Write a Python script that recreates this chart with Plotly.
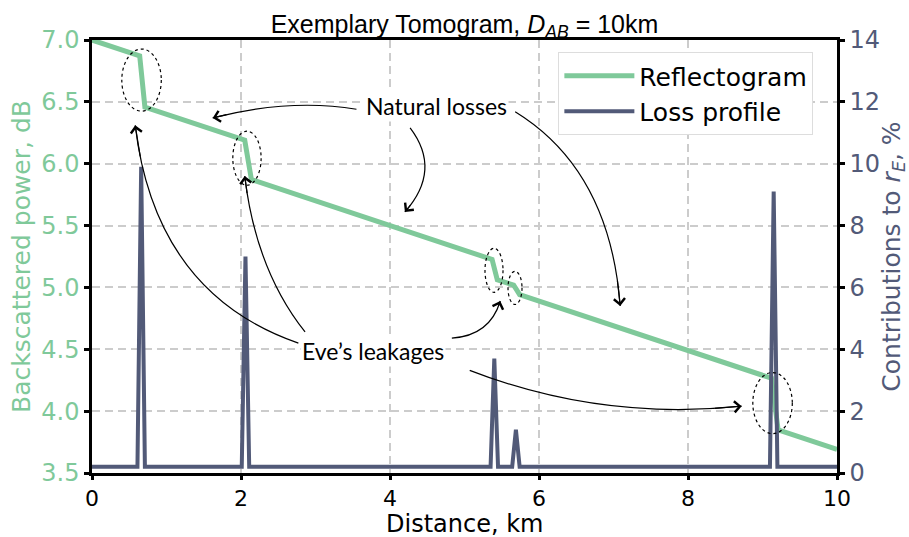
import plotly.graph_objects as go

# Reflectogram vertices (distance in km, backscattered power in dB)
refl_km = [0.0, 0.64, 0.71, 2.05, 2.14, 5.37, 5.44, 5.66, 5.74, 9.12, 9.21, 10.0]
refl_db = [7.0, 6.872, 6.458, 6.19, 5.872, 5.226, 5.062, 5.018, 4.942, 4.266, 3.848, 3.69]

# Loss profile: event positions (km) and their contributions to r_E (%)
event_km = [0.66, 2.06, 5.40, 5.69, 9.15]
event_pct = [9.9, 7.0, 3.7, 1.4, 9.1]
loss_floor = 0.2
spike_halfwidth = 0.05

loss_x = [0.0]
loss_y = [loss_floor]
for xk, pk in zip(event_km, event_pct):
    loss_x += [xk - spike_halfwidth, xk, xk + spike_halfwidth]
    loss_y += [loss_floor, pk, loss_floor]
loss_x.append(10.0)
loss_y.append(loss_floor)

GREEN = "#7fc99a"
NAVY = "#525a78"
TICK_FONT = "DejaVu Sans"

fig = go.Figure()
fig.add_trace(go.Scatter(x=refl_km, y=refl_db, mode="lines", name="Reflectogram",
                         line=dict(color=GREEN, width=5), yaxis="y"))
fig.add_trace(go.Scatter(x=loss_x, y=loss_y, mode="lines", name="Loss profile",
                         line=dict(color=NAVY, width=4), yaxis="y2"))

# Dotted ellipses around loss events (x0, x1, y0, y1 in km / dB)
ellipses = [
    (0.40, 0.93, 6.425, 6.927),
    (1.89, 2.27, 5.826, 6.263),
    (5.275, 5.517, 4.960, 5.316),
    (5.584, 5.772, 4.862, 5.130),
    (8.87, 9.40, 3.818, 4.312),
]
shapes = []
for x0, x1, y0, y1 in ellipses:
    shapes.append(dict(type="circle", xref="x", yref="y", x0=x0, x1=x1, y0=y0, y1=y1,
                       line=dict(color="black", width=1.2, dash="dot")))

# Curved pointer arrows: start, control, end (km, dB)
curves = [
    ((3.55, 6.44), (2.66, 6.53), (1.62, 6.37)),
    ((4.27, 6.29), (4.70, 5.95), (4.20, 5.61)),
    ((5.68, 6.42), (6.95, 5.95), (7.09, 4.85)),
    ((2.77, 4.55), (0.85, 4.95), (0.58, 6.31)),
    ((2.86, 4.64), (2.20, 5.14), (2.05, 5.90)),
    ((4.83, 4.59), (5.34, 4.61), (5.48, 4.89)),
    ((5.07, 4.33), (6.82, 3.92), (8.72, 4.04)),
]
annotations = []
for (sx, sy), (cx, cy), (ex, ey) in curves:
    shapes.append(dict(type="path", xref="x", yref="y",
                       path=f"M {sx},{sy} Q {cx},{cy} {ex},{ey}",
                       line=dict(color="black", width=1.2)))
    t = 0.9
    tx = (1 - t) ** 2 * sx + 2 * (1 - t) * t * cx + t ** 2 * ex
    ty = (1 - t) ** 2 * sy + 2 * (1 - t) * t * cy + t ** 2 * ey
    annotations.append(dict(x=ex, y=ey, ax=tx, ay=ty, xref="x", yref="y",
                            axref="x", ayref="y", text="", showarrow=True,
                            arrowhead=4, arrowsize=1.8, arrowwidth=1.2,
                            arrowcolor="black", standoff=0))

annotations.append(dict(x=4.63, y=6.47, xref="x", yref="y", text="Natural losses",
                        showarrow=False, bgcolor="white",
                        font=dict(family="Lato", size=23, color="black")))
annotations.append(dict(x=3.77, y=4.49, xref="x", yref="y", text="Eve\u2019s leakages",
                        showarrow=False, bgcolor="white",
                        font=dict(family="Lato", size=23, color="black")))

# x-axis title placed beneath the tick labels
annotations.append(dict(x=0.5, y=-0.153, xref="paper", yref="paper", text="Distance, km",
                        showarrow=False, xanchor="center", yanchor="bottom", borderpad=0,
                        font=dict(family=TICK_FONT, size=24, color="black")))

grid = dict(showgrid=True, gridcolor="#cccccc", gridwidth=2, griddash="8px,5px")
axis_line = dict(showline=True, linecolor="black", linewidth=2.5, ticks="outside",
                 ticklen=5, tickwidth=2.5, tickcolor="black", zeroline=False,
                 automargin=False)

fig.update_layout(
    width=909, height=537,
    margin=dict(l=92, r=72, t=40, b=64),
    plot_bgcolor="white", paper_bgcolor="white",
    title=dict(text="Exemplary Tomogram, <i>D</i><sub><i>AB</i></sub> = 10km",
               x=0.5, xref="paper", y=0.955, yref="container", yanchor="middle",
               automargin=False,
               font=dict(family="Liberation Sans", size=25, color="black")),
    xaxis=dict(range=[0, 10], dtick=2, tickfont=dict(family=TICK_FONT, size=22, color="black"),
               mirror=True, **{**axis_line, "ticklen": 4}, **grid),
    yaxis=dict(range=[3.5, 7.0], dtick=0.5, tickformat=".1f",
               tickfont=dict(family=TICK_FONT, size=24, color=GREEN),
               title=dict(text="Backscattered power, dB",
                          font=dict(family=TICK_FONT, size=25, color=GREEN), standoff=4),
               **grid, **axis_line),
    yaxis2=dict(range=[0, 14], dtick=2, overlaying="y", side="right",
                tickfont=dict(family=TICK_FONT, size=24, color=NAVY),
                title=dict(text="Contributions to <i>r</i><sub><i>E</i></sub>, %",
                           font=dict(family=TICK_FONT, size=25, color=NAVY), standoff=4),
                showgrid=False, **axis_line),
    legend=dict(x=0.626, y=0.972, xanchor="left", yanchor="top",
                bgcolor="white", bordercolor="#dddddd", borderwidth=1,
                font=dict(family=TICK_FONT, size=25, color="black"),
                itemwidth=70, tracegroupgap=0),
    shapes=shapes,
    annotations=annotations,
    showlegend=True,
)

fig.write_html("out.html")
